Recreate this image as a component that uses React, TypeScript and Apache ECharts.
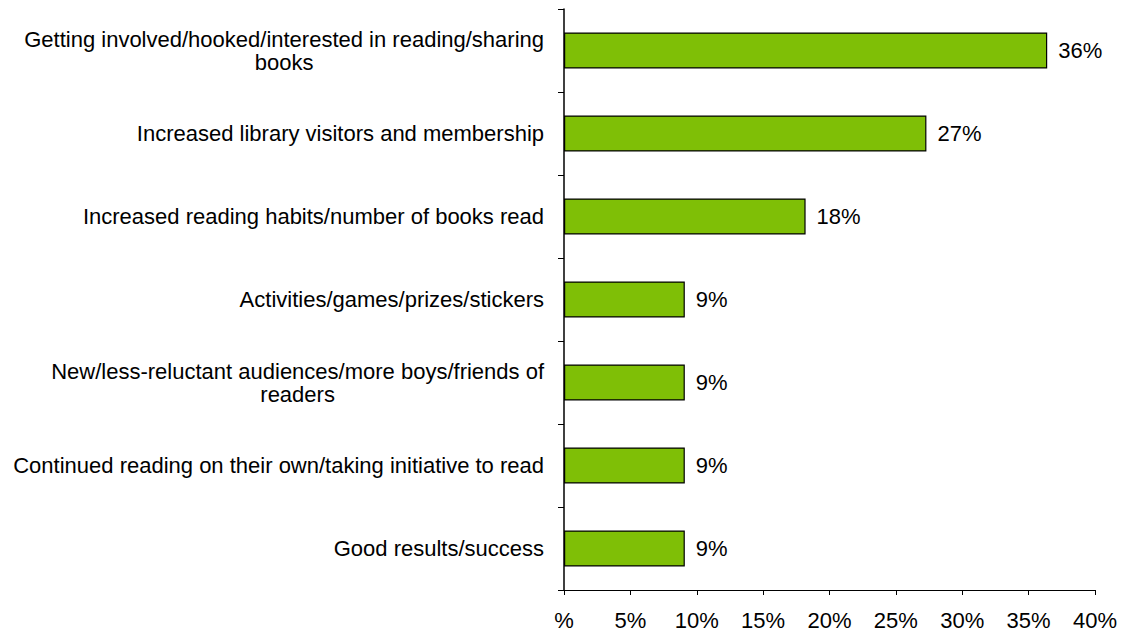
import React, { useEffect, useRef } from "react";
import * as echarts from "echarts";

const categories = [
  "Getting involved/hooked/interested in reading/sharing\nbooks",
  "Increased library visitors and membership",
  "Increased reading habits/number of books read",
  "Activities/games/prizes/stickers",
  "New/less-reluctant audiences/more boys/friends of\nreaders",
  "Continued reading on their own/taking initiative to read",
  "Good results/success",
];
const values = [36.4, 27.3, 18.2, 9.1, 9.1, 9.1, 9.1];

export default function App() {
  const ref = useRef<HTMLDivElement>(null);
  useEffect(() => {
    if (!ref.current) return;
    const chart = echarts.init(ref.current, null, { renderer: "svg" });
    const font = "Liberation Sans, Arial, sans-serif";
    chart.setOption({
      animation: false,
      grid: { left: 564, right: 32, top: 9, bottom: 42 },
      xAxis: {
        type: "value",
        min: 0,
        max: 40,
        interval: 5,
        axisLine: { show: true, lineStyle: { color: "#000", width: 1 } },
        axisTick: { show: true, length: 5, lineStyle: { color: "#000" } },
        splitLine: { show: false },
        axisLabel: {
          color: "#000",
          fontSize: 22,
          fontFamily: font,
          margin: 19,
          formatter: (v: number) => (v === 0 ? "%" : v + "%"),
        },
      },
      yAxis: {
        type: "category",
        inverse: true,
        data: categories,
        axisLine: { show: true, lineStyle: { color: "#000", width: 1.5 } },
        axisTick: { show: true, length: 6, inside: false, lineStyle: { color: "#000" } },
        axisLabel: {
          margin: 20,
          color: "#000",
          fontSize: 22,
          fontFamily: font,
          lineHeight: 23,
          formatter: (v: string) =>
            v
              .split("\n")
              .map((l) => "{c|" + l + "}")
              .join("\n"),
          rich: {
            c: { align: "center", fontSize: 22, fontFamily: font, color: "#000", lineHeight: 23 },
          },
        },
      },
      series: [
        {
          type: "bar",
          data: values,
          barWidth: 36,
          itemStyle: { color: "#7FBF06", borderColor: "#000", borderWidth: 1.2 },
          label: {
            show: true,
            position: "right",
            distance: 11,
            color: "#000",
            fontSize: 22,
            fontFamily: font,
            formatter: (p: any) => Math.round(p.value) + "%",
          },
        },
      ],
    });
    return () => chart.dispose();
  }, []);
  return <div ref={ref} style={{ width: 1127, height: 632, position: "absolute", left: 0, top: 0 }} />;
}
